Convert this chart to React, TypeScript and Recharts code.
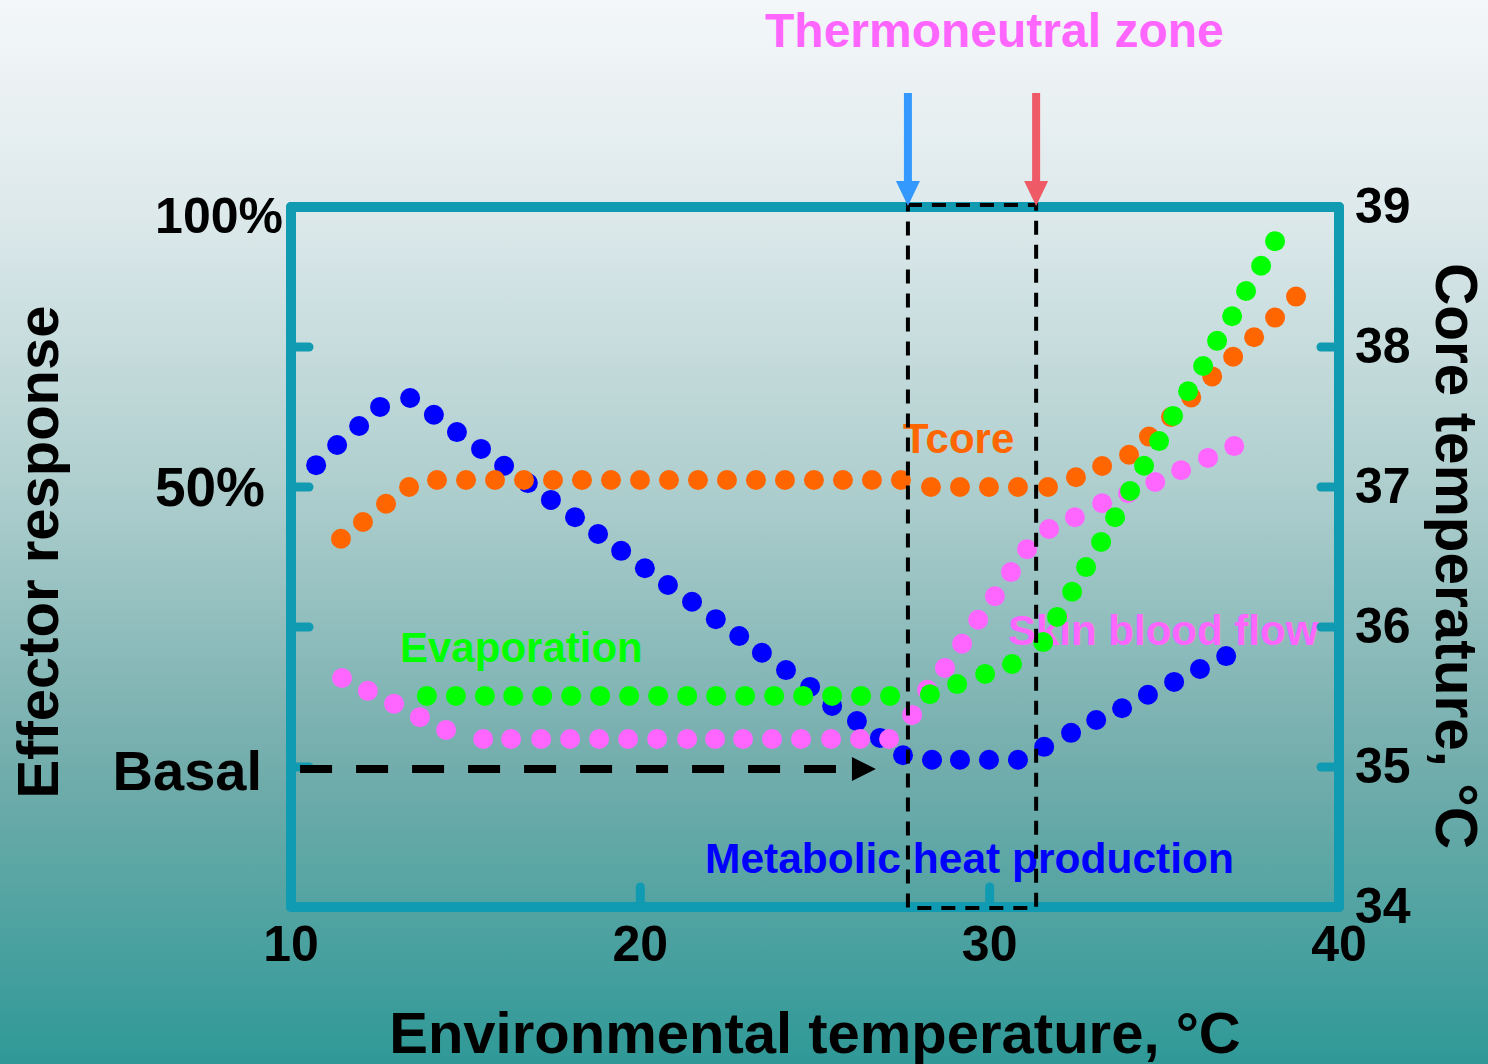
import React from "react";
import {
  ScatterChart,
  Scatter,
  XAxis,
  YAxis,
  ReferenceArea,
  ReferenceLine,
  ReferenceDot,
} from "recharts";

const FONT = '"Liberation Sans", Arial, Helvetica, sans-serif';
const TEAL = "#119bb2";

// axes
const envTicks = [10, 20, 30, 40];
const effectorTicks = [-25, 0, 25, 50, 75, 100];
const effectorLabels: Record<number, string> = { 100: "100%", 50: "50%", 0: "Basal" };
const coreTicks = [34, 35, 36, 37, 38, 39];

// Metabolic heat production (effector response, %)
const metabolicX = [
  10.72, 11.32, 11.95, 12.55, 13.41, 14.09, 14.75, 15.44, 16.1, 16.78, 17.44, 18.13, 18.79,
  19.45, 20.13, 20.79, 21.48, 22.16, 22.83, 23.48, 24.17, 24.86, 25.49, 26.2, 26.86, 27.52,
  28.35, 29.15, 29.98, 30.81, 31.56, 32.33, 33.05, 33.79, 34.53, 35.28, 36.02, 36.77,
];
const metabolicY = [
  53.9, 57.5, 60.9, 64.3, 65.9, 62.9, 59.8, 56.8, 53.8, 50.7, 47.7, 44.6, 41.6, 38.6, 35.5,
  32.5, 29.5, 26.4, 23.4, 20.4, 17.3, 14.3, 10.9, 8.2, 5.2, 2.1, 1.3, 1.3, 1.3, 1.3, 3.6, 6.1,
  8.4, 10.5, 12.9, 15.2, 17.5, 19.8,
];

// Core temperature (°C, right axis)
const tcoreX = [
  11.43, 12.06, 12.72, 13.38, 14.18, 15.01, 15.84, 16.67, 17.5, 18.33, 19.16, 19.99, 20.82,
  21.65, 22.48, 23.31, 24.14, 24.97, 25.8, 26.63, 27.46, 28.32, 29.15, 29.98, 30.81, 31.67,
  32.47, 33.22, 33.99, 34.56, 35.19, 35.77, 36.37, 36.97, 37.57, 38.17, 38.77,
];
const tcoreY = [
  36.63, 36.75, 36.88, 37.0, 37.05, 37.05, 37.05, 37.05, 37.05, 37.05, 37.05, 37.05, 37.05,
  37.05, 37.05, 37.05, 37.05, 37.05, 37.05, 37.05, 37.05, 37.0, 37.0, 37.0, 37.0, 37.0, 37.07,
  37.15, 37.23, 37.36, 37.5, 37.64, 37.79, 37.93, 38.07, 38.21, 38.36,
];

// Evaporation (%)
const evapX = [
  13.89, 14.72, 15.55, 16.36, 17.19, 18.02, 18.85, 19.68, 20.51, 21.34, 22.17, 23.0, 23.83,
  24.66, 25.49, 26.32, 27.15, 28.29, 29.07, 29.87, 30.64, 31.53, 31.93, 32.36, 32.76, 33.19,
  33.59, 34.02, 34.42, 34.85, 35.25, 35.68, 36.11, 36.51, 36.94, 37.34, 37.77, 38.17,
];
const evapY = [
  12.7, 12.7, 12.7, 12.7, 12.7, 12.7, 12.7, 12.7, 12.7, 12.7, 12.7, 12.7, 12.7, 12.7, 12.7,
  12.7, 12.7, 13.0, 14.8, 16.6, 18.4, 22.3, 26.8, 31.3, 35.7, 40.2, 44.6, 49.3, 53.8, 58.2,
  62.7, 67.1, 71.6, 76.1, 80.5, 85.0, 89.5, 93.9,
];

// Skin blood flow (%)
const skinX = [
  11.46, 12.2, 12.95, 13.69, 14.44, 15.5, 16.3, 17.16, 17.99, 18.82, 19.65, 20.48, 21.34,
  22.14, 22.94, 23.77, 24.6, 25.46, 26.29, 27.12, 27.78, 28.21, 28.72, 29.21, 29.67, 30.15,
  30.61, 31.07, 31.7, 32.44, 33.22, 33.96, 34.74, 35.48, 36.25, 37.0,
];
const skinY = [
  15.9, 13.6, 11.3, 8.9, 6.6, 5.0, 5.0, 5.0, 5.0, 5.0, 5.0, 5.0, 5.0, 5.0, 5.0, 5.0, 5.0, 5.0,
  5.0, 5.0, 9.3, 13.8, 17.7, 22.0, 26.3, 30.5, 34.8, 38.9, 42.5, 44.6, 47.1, 48.9, 50.9, 53.0,
  55.2, 57.3,
];

// thermoneutral zone and basal arrow (°C / %)
const zoneLow = 27.66;
const zoneHigh = 31.33;
const basalStart = 10.26;
const basalEnd = 25.6;
const basalHead = 26.4;

const toPoints = (xs: number[], ys: number[]) => xs.map((x, i) => ({ x, y: ys[i] }));
const metabolic = toPoints(metabolicX, metabolicY);
const tcore = toPoints(tcoreX, tcoreY);
const evaporation = toPoints(evapX, evapY);
const skinFlow = toPoints(skinX, skinY);

const M = 12;

const dot = (color: string) => (p: any) => <circle cx={p.cx} cy={p.cy} r={10} fill={color} />;

const tickLine = (x1: number, y1: number, x2: number, y2: number) => (
  <line x1={x1} y1={y1} x2={x2} y2={y2} stroke={TEAL} strokeWidth={9} strokeLinecap="round" />
);

const BottomTick = (p: any) => {
  const v = p.payload.value;
  const axisY = p.y - M;
  return (
    <g>
      {v > 10 && v < 40 && tickLine(p.x, axisY, p.x, axisY - 20)}
      <text x={p.x} y={axisY + 54} textAnchor="middle" fontFamily={FONT} fontWeight="bold" fontSize={50} fill="#000">
        {v}
      </text>
    </g>
  );
};

const TopTick = (p: any) => {
  const v = p.payload.value;
  const axisY = p.y + M;
  return <g>{v > 10 && v < 40 && tickLine(p.x, axisY, p.x, axisY + 20)}</g>;
};

const labelShift: Record<number, [number, number, number]> = {
  100: [8, 8, 50],
  50: [26, 0, 55],
  0: [29, 3, 56],
};

const LeftTick = (p: any) => {
  const v = p.payload.value;
  const axisX = p.x + M;
  const label = effectorLabels[v];
  const [dx, dy, fs] = labelShift[v] || [0, 0, 50];
  return (
    <g>
      {v > -25 && v < 100 && tickLine(axisX, p.y, axisX + 18, p.y)}
      {label && (
        <text x={axisX - dx} y={p.y + dy} dy="0.35em" textAnchor="end" fontFamily={FONT} fontWeight="bold" fontSize={fs} fill="#000">
          {label}
        </text>
      )}
    </g>
  );
};

const RightTick = (p: any) => {
  const v = p.payload.value;
  const axisX = p.x - M;
  return (
    <g>
      {v > 34 && v < 39 && tickLine(axisX, p.y, axisX - 18, p.y)}
      <text x={axisX + 16} y={p.y - 2} dy="0.35em" textAnchor="start" fontFamily={FONT} fontWeight="bold" fontSize={50} fill="#000">
        {v}
      </text>
    </g>
  );
};

const Arrow = ({ x, y, color }: { x: number; y: number; color: string }) => (
  <g>
    <line x1={x} y1={y - 114} x2={x} y2={y - 22} stroke={color} strokeWidth={8} />
    <polygon points={`${x - 12},${y - 26} ${x + 12},${y - 26} ${x},${y - 1}`} fill={color} />
  </g>
);

const ZoneShape = (p: any) => (
  <g>
    <rect x={p.x} y={p.y - 2} width={p.width} height={p.height + 3} fill="none" stroke="#000" strokeWidth={4} strokeDasharray="14 10" />
    <Arrow x={p.x} y={p.y} color="#3399ff" />
    <Arrow x={p.x + p.width} y={p.y} color="#ee5a66" />
  </g>
);

// basal dashed arrow: line + head drawn together so they sit above the frame ticks
const BasalShape = (p: any) => {
  const x1 = p.x1 ?? p.x;
  const y = p.y1 ?? p.y;
  return <line x1={x1} y1={y + 2} x2={p.x2} y2={y + 2} stroke="#000" strokeWidth={8} strokeDasharray="32 24" />;
};

const HeadShape = (p: any) => (
  <polygon points={`${p.cx - 12},${p.cy - 10} ${p.cx - 12},${p.cy + 14} ${p.cx + 12},${p.cy + 2}`} fill="#000" />
);

const textStyle = { fontFamily: FONT, fontWeight: "bold" as const };
const frame = { stroke: TEAL, strokeWidth: 10, strokeLinecap: "round" as const };

const App = () => {
  return (
    <div
      style={{
        position: "absolute",
        left: 0,
        top: 0,
        width: 1488,
        height: 1064,
        background:
          "linear-gradient(to bottom, #f4f7f9 0%, #dde9eb 20%, #b0cfcf 45%, #72adac 72%, #2f9997 100%)",
        overflow: "hidden",
      }}
    >
      <svg width={1488} height={1064} style={{ position: "absolute", left: 0, top: 0 }}>
        <text x={765} y={47} fontSize={48} fill="#ff66ff" {...textStyle}>
          Thermoneutral zone
        </text>
        <text x={903} y={453} fontSize={42} fill="#ff6600" {...textStyle}>
          Tcore
        </text>
        <text x={400} y={662} fontSize={42} fill="#00ff00" {...textStyle}>
          Evaporation
        </text>
        <text x={1008} y={645} fontSize={42} fill="#ff66ff" {...textStyle}>
          Skin blood flow
        </text>
        <text x={705} y={873} fontSize={42.5} fill="#0000ff" {...textStyle}>
          Metabolic heat production
        </text>
        <text transform="translate(58,552) rotate(-90)" textAnchor="middle" fontSize={58} fill="#000" {...textStyle}>
          Effector response
        </text>
        <text transform="translate(1436,556) rotate(90)" textAnchor="middle" fontSize={58.5} fill="#000" {...textStyle}>
          Core temperature, °C
        </text>
        <text x={815} y={1053} textAnchor="middle" fontSize={58} fill="#000" {...textStyle}>
          Environmental temperature, °C
        </text>
      </svg>
      <div style={{ position: "absolute", left: 0, top: 0 }}>
        <ScatterChart width={1488} height={1064} margin={{ top: 206, right: 148, bottom: 156, left: 290 }}>
          <XAxis
            xAxisId="bottom"
            dataKey="x"
            type="number"
            domain={[10, 40]}
            ticks={envTicks}
            interval={0}
            height={1}
            tickSize={0}
            tickMargin={M}
            tickLine={false}
            axisLine={frame}
            tick={BottomTick}
            allowDataOverflow
          />
          <XAxis
            xAxisId="top"
            orientation="top"
            type="number"
            domain={[10, 40]}
            ticks={envTicks}
            interval={0}
            height={1}
            tickSize={0}
            tickMargin={M}
            tickLine={false}
            axisLine={frame}
            tick={TopTick}
            allowDataOverflow
          />
          <YAxis
            yAxisId="left"
            dataKey="y"
            type="number"
            domain={[-25, 100]}
            ticks={effectorTicks}
            interval={0}
            width={1}
            tickSize={0}
            tickMargin={M}
            tickLine={false}
            axisLine={frame}
            tick={LeftTick}
            allowDataOverflow
          />
          <YAxis
            yAxisId="right"
            orientation="right"
            dataKey="y"
            type="number"
            domain={[34, 39]}
            ticks={coreTicks}
            interval={0}
            width={1}
            tickSize={0}
            tickMargin={M}
            tickLine={false}
            axisLine={frame}
            tick={RightTick}
            allowDataOverflow
          />
          <Scatter xAxisId="bottom" yAxisId="left" data={metabolic} shape={dot("#0000ff")} isAnimationActive={false} />
          <Scatter xAxisId="bottom" yAxisId="right" data={tcore} shape={dot("#ff6600")} isAnimationActive={false} />
          <Scatter xAxisId="bottom" yAxisId="left" data={skinFlow} shape={dot("#ff66ff")} isAnimationActive={false} />
          <Scatter xAxisId="bottom" yAxisId="left" data={evaporation} shape={dot("#00ff00")} isAnimationActive={false} />
          <ReferenceLine
            xAxisId="bottom"
            yAxisId="left"
            segment={[
              { x: basalStart, y: 0 },
              { x: basalEnd, y: 0 },
            ]}
            ifOverflow="visible"
            shape={BasalShape}
            zIndex={2000}
          />
          <ReferenceDot xAxisId="bottom" yAxisId="left" x={basalHead} y={0} ifOverflow="visible" shape={HeadShape} zIndex={2000} />
          <ReferenceArea
            xAxisId="bottom"
            yAxisId="left"
            x1={zoneLow}
            x2={zoneHigh}
            ifOverflow="visible"
            shape={ZoneShape}
            zIndex={2000}
          />
        </ScatterChart>
      </div>
    </div>
  );
};

export default App;
